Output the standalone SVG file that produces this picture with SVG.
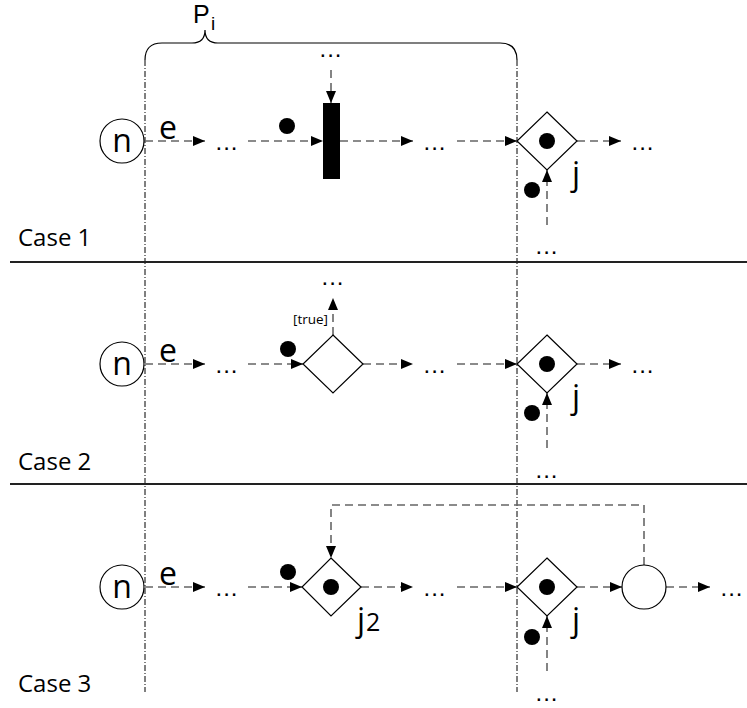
<svg xmlns="http://www.w3.org/2000/svg" width="747" height="708" viewBox="0 0 747 708">
<defs>
<marker id="ah" markerWidth="12" markerHeight="10" refX="12" refY="5" orient="auto" markerUnits="userSpaceOnUse"><path d="M0,0 L12,5 L0,10 Z" fill="#000"/></marker>
</defs>
<style>
.t{font-family:"Open Sans","Liberation Sans",sans-serif;fill:#000}
.big{font-size:32px}
.mid{font-size:24px}
.dots{font-family:"Liberation Sans",sans-serif;font-size:24px;letter-spacing:1px}
.small{font-size:13.5px}
.flow{fill:none;stroke:#666;stroke-width:1.6;stroke-dasharray:8,5}
.fa{marker-end:url(#ah)}
.shape{fill:#fff;stroke:#000;stroke-width:1.2}
.tok{fill:#000}
.dd{fill:none;stroke:#000;stroke-width:1;stroke-dasharray:6,2,1,2}
.sep{stroke:#222;stroke-width:2}
</style>
<rect width="747" height="708" fill="#fff"/>

<g id="brace">
<path d="M145,60 Q145,43 162,43 L192,43 Q205,43 205,30 Q205,43 218,43 L500,43 Q517,43 517,60" fill="none" stroke="#000" stroke-width="1.2"/>
<text x="193" y="23" font-family="Liberation Sans, sans-serif" font-size="25" fill="#000">P</text><text x="211" y="30" font-family="Liberation Sans, sans-serif" font-size="19" fill="#000">i</text>
</g>
<g id="boundaries">
<line class="dd" x1="145" y1="60" x2="145" y2="692"/>
<line class="dd" x1="517" y1="60" x2="517" y2="692"/>
</g>
<g id="separators">
<line class="sep" x1="10" y1="262" x2="747" y2="262"/>
<line class="sep" x1="10" y1="484" x2="747" y2="484"/>
</g>

<g id="connectors">
<!-- Case 1 -->
<line class="flow fa" x1="145" y1="141" x2="205" y2="141"/>
<line class="flow fa" x1="248" y1="141" x2="323" y2="141"/>
<line class="flow fa" x1="331" y1="70" x2="331" y2="103"/>
<line class="flow fa" x1="340" y1="141" x2="413" y2="141"/>
<line class="flow fa" x1="457" y1="141" x2="517" y2="141"/>
<line class="flow fa" x1="577" y1="141" x2="621" y2="141"/>
<line class="flow fa" x1="547" y1="225" x2="547" y2="170"/>
<!-- Case 2 -->
<line class="flow fa" x1="145" y1="364" x2="205" y2="364"/>
<line class="flow fa" x1="248" y1="364" x2="303" y2="364"/>
<line class="flow fa" x1="333" y1="335" x2="333" y2="298"/>
<line class="flow fa" x1="363" y1="364" x2="413" y2="364"/>
<line class="flow fa" x1="457" y1="364" x2="517" y2="364"/>
<line class="flow fa" x1="577" y1="364" x2="621" y2="364"/>
<line class="flow fa" x1="547" y1="448" x2="547" y2="393"/>
<!-- Case 3 -->
<line class="flow fa" x1="145" y1="587" x2="205" y2="587"/>
<line class="flow fa" x1="248" y1="587" x2="302" y2="587"/>
<line class="flow fa" x1="361" y1="587" x2="413" y2="587"/>
<line class="flow fa" x1="457" y1="587" x2="517" y2="587"/>
<line class="flow fa" x1="577" y1="587" x2="622" y2="587"/>
<line class="flow fa" x1="666" y1="587" x2="710" y2="587"/>
<line class="flow fa" x1="547" y1="671" x2="547" y2="616"/>
<polyline class="flow fa" points="644,565 644,505 331,505 331,558"/>
</g>

<!-- Case 1 nodes -->
<g id="c1-n"><circle class="shape" cx="122" cy="141" r="22"/><text class="t big" x="122" y="152" text-anchor="middle">n</text></g>
<g id="c1-labels">
<text class="t big" x="159" y="139">e</text>
<text class="dots" x="227" y="150" text-anchor="middle">...</text>
<text class="dots" x="331" y="57" text-anchor="middle">...</text>
<text class="dots" x="435" y="150" text-anchor="middle">...</text>
<text class="dots" x="643" y="150" text-anchor="middle">...</text>
<text class="dots" x="547" y="254" text-anchor="middle">...</text>
<text class="t big" x="572" y="185">j</text>
<text class="t mid" x="18" y="246">Case 1</text>
</g>
<g id="c1-fork"><rect x="323" y="103" width="17" height="76" fill="#000"/></g>
<circle class="tok" cx="287" cy="126" r="8"/>
<g id="c1-join"><polygon class="shape" points="547,112 577,141 547,170 517,141"/><circle class="tok" cx="547" cy="141" r="8"/></g>
<circle class="tok" cx="532" cy="190" r="8"/>

<!-- Case 2 nodes -->
<g id="c2-n"><circle class="shape" cx="122" cy="364" r="22"/><text class="t big" x="122" y="375" text-anchor="middle">n</text></g>
<g id="c2-labels">
<text class="t big" x="159" y="362">e</text>
<text class="dots" x="227" y="373" text-anchor="middle">...</text>
<text class="dots" x="333" y="285" text-anchor="middle">...</text>
<text class="t small" x="328" y="324" text-anchor="end">[true]</text>
<text class="dots" x="435" y="373" text-anchor="middle">...</text>
<text class="dots" x="643" y="373" text-anchor="middle">...</text>
<text class="dots" x="547" y="478" text-anchor="middle">...</text>
<text class="t big" x="572" y="408">j</text>
<text class="t mid" x="18" y="470">Case 2</text>
</g>
<circle class="tok" cx="288" cy="349" r="8"/>
<g id="c2-decision"><polygon class="shape" points="333,335 363,364 333,393 303,364"/></g>
<g id="c2-join"><polygon class="shape" points="547,335 577,364 547,393 517,364"/><circle class="tok" cx="547" cy="364" r="8"/></g>
<circle class="tok" cx="532" cy="413" r="8"/>

<!-- Case 3 nodes -->
<g id="c3-n"><circle class="shape" cx="122" cy="587" r="22"/><text class="t big" x="122" y="598" text-anchor="middle">n</text></g>
<g id="c3-labels">
<text class="t big" x="159" y="585">e</text>
<text class="dots" x="227" y="596" text-anchor="middle">...</text>
<text class="dots" x="435" y="596" text-anchor="middle">...</text>
<text class="dots" x="732" y="596" text-anchor="middle">...</text>
<text class="dots" x="547" y="701" text-anchor="middle">...</text>
<text class="t big" x="572" y="631">j</text>
<text class="t big" x="357" y="631">j</text><text class="t" x="366" y="631" font-size="25">2</text>
<text class="t mid" x="18" y="692">Case 3</text>
</g>
<circle class="tok" cx="288" cy="572" r="8"/>
<g id="c3-j2"><polygon class="shape" points="331,558 361,587 331,616 302,587"/><circle class="tok" cx="331" cy="587" r="8"/></g>
<g id="c3-join"><polygon class="shape" points="547,558 577,587 547,616 517,587"/><circle class="tok" cx="547" cy="587" r="8"/></g>
<circle class="tok" cx="532" cy="637" r="8"/>
<g id="c3-merge"><circle class="shape" cx="644" cy="587" r="22"/></g>
</svg>
